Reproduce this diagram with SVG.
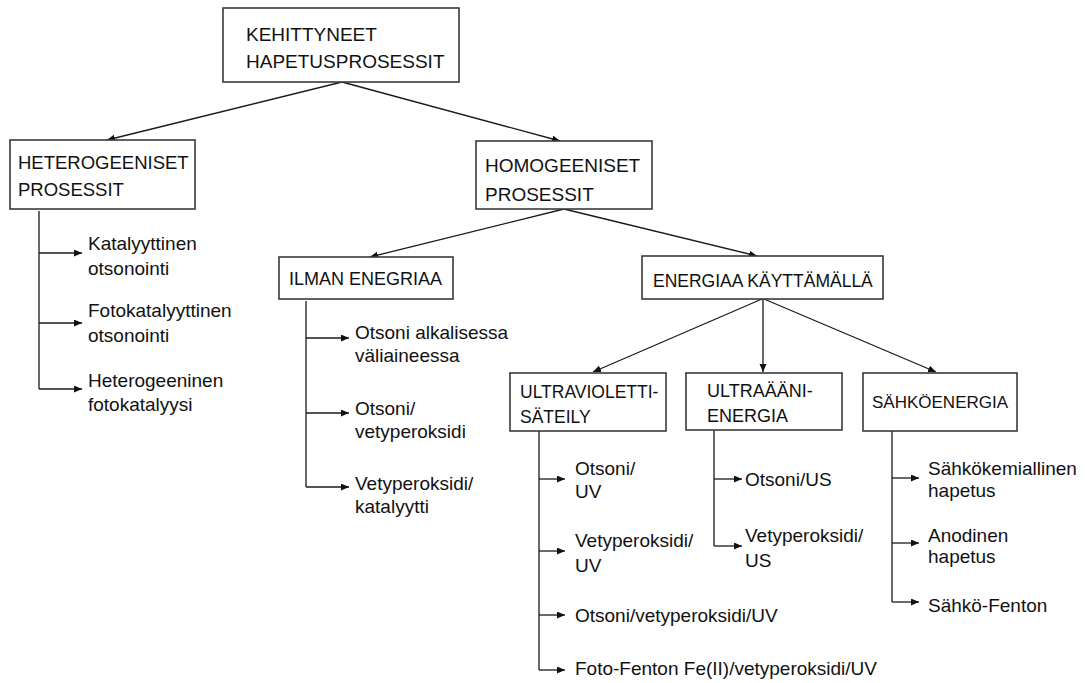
<svg xmlns="http://www.w3.org/2000/svg" width="1085" height="683" viewBox="0 0 1085 683">
<defs>
<marker id="ah" markerUnits="userSpaceOnUse" markerWidth="9" markerHeight="8" refX="8" refY="3.5" orient="auto">
<path d="M0,0 L8,3.5 L0,7 z" fill="#111"/>
</marker>
<style>
.box{fill:#fff;stroke:#3a3a3a;stroke-width:1.6}
.t{font-family:"Liberation Sans",Arial,sans-serif;font-size:18.5px;fill:#111}
.l{font-family:"Liberation Sans",Arial,sans-serif;font-size:19px;fill:#111}
.c{fill:none;stroke:#1a1a1a;stroke-width:1.3}
.a{fill:none;stroke:#1a1a1a;stroke-width:1.3;marker-end:url(#ah)}
</style>
</defs>
<rect width="1085" height="683" fill="#fff"/>
<g id="connectors">
<line class="a" x1="342" y1="82" x2="107" y2="140"/>
<line class="a" x1="342" y1="82" x2="560" y2="141"/>
<line class="a" x1="564" y1="209" x2="370" y2="257"/>
<line class="a" x1="564" y1="209" x2="757" y2="256"/>
<line class="a" x1="762" y1="299" x2="593" y2="372"/>
<line class="a" x1="763" y1="299" x2="763" y2="372"/>
<line class="a" x1="764" y1="299" x2="936" y2="372"/>
<path class="c" d="M39,211 V389"/>
<line class="a" x1="39" y1="253" x2="82" y2="253"/>
<line class="a" x1="39" y1="323" x2="82" y2="323"/>
<line class="a" x1="39" y1="389" x2="82" y2="389"/>
<path class="c" d="M306,301 V487"/>
<line class="a" x1="306" y1="338" x2="349" y2="338"/>
<line class="a" x1="306" y1="413" x2="349" y2="413"/>
<line class="a" x1="306" y1="487" x2="349" y2="487"/>
<path class="c" d="M539,431 V670"/>
<line class="a" x1="539" y1="479" x2="565" y2="479"/>
<line class="a" x1="539" y1="551" x2="565" y2="551"/>
<line class="a" x1="539" y1="615" x2="565" y2="615"/>
<line class="a" x1="539" y1="670" x2="565" y2="670"/>
<path class="c" d="M714,430 V546"/>
<line class="a" x1="714" y1="479" x2="742" y2="479"/>
<line class="a" x1="714" y1="546" x2="742" y2="546"/>
<path class="c" d="M892,431 V602"/>
<line class="a" x1="892" y1="478" x2="919" y2="478"/>
<line class="a" x1="892" y1="543" x2="919" y2="543"/>
<line class="a" x1="892" y1="602" x2="919" y2="602"/>
</g>
<g id="n-root">
<rect class="box" x="223" y="8" width="236" height="74"/>
<text class="t" x="246" y="41" style="font-size:19px">KEHITTYNEET</text>
<text class="t" x="246" y="68" style="font-size:19px">HAPETUSPROSESSIT</text>
</g>
<g id="n-hetero">
<rect class="box" x="10" y="140" width="185" height="69"/>
<text class="t" x="18" y="169">HETEROGEENISET</text>
<text class="t" x="18" y="196">PROSESSIT</text>
</g>
<g id="n-homo">
<rect class="box" x="476" y="141" width="176" height="68"/>
<text class="t" x="485" y="172" style="font-size:19px">HOMOGEENISET</text>
<text class="t" x="485" y="201" style="font-size:19px">PROSESSIT</text>
</g>
<g id="n-ilman">
<rect class="box" x="279" y="257" width="174" height="42"/>
<text class="t" x="289" y="285" style="font-size:18px">ILMAN ENEGRIAA</text>
</g>
<g id="n-energiaa">
<rect class="box" x="642" y="256" width="241" height="43"/>
<text class="t" x="653" y="287" style="font-size:17.5px">ENERGIAA KÄYTTÄMÄLLÄ</text>
</g>
<g id="n-uv">
<rect class="box" x="510" y="373" width="156" height="58"/>
<text class="t" x="520" y="398" style="font-size:17.5px">ULTRAVIOLETTI-</text>
<text class="t" x="520" y="423" style="font-size:17.5px">SÄTEILY</text>
</g>
<g id="n-ultra">
<rect class="box" x="686" y="373" width="156" height="57"/>
<text class="t" x="707" y="397" style="font-size:18px">ULTRAÄÄNI-</text>
<text class="t" x="707" y="422" style="font-size:18px">ENERGIA</text>
</g>
<g id="n-sahko">
<rect class="box" x="863" y="373" width="154" height="58"/>
<text class="t" x="872" y="408" style="font-size:17px">SÄHKÖENERGIA</text>
</g>
<g id="leaves-hetero">
<text class="l" x="88" y="250">Katalyyttinen</text>
<text class="l" x="88" y="275">otsonointi</text>
<text class="l" x="88" y="317">Fotokatalyyttinen</text>
<text class="l" x="88" y="342">otsonointi</text>
<text class="l" x="88" y="387">Heterogeeninen</text>
<text class="l" x="88" y="411">fotokatalyysi</text>
</g>
<g id="leaves-ilman">
<text class="l" x="355" y="339">Otsoni alkalisessa</text>
<text class="l" x="355" y="362">väliaineessa</text>
<text class="l" x="355" y="415">Otsoni/</text>
<text class="l" x="355" y="438">vetyperoksidi</text>
<text class="l" x="355" y="490">Vetyperoksidi/</text>
<text class="l" x="355" y="513">katalyytti</text>
</g>
<g id="leaves-uv">
<text class="l" x="575" y="475">Otsoni/</text>
<text class="l" x="575" y="498">UV</text>
<text class="l" x="575" y="547">Vetyperoksidi/</text>
<text class="l" x="575" y="572">UV</text>
<text class="l" x="575" y="622">Otsoni/vetyperoksidi/UV</text>
<text class="l" x="575" y="675">Foto-Fenton Fe(II)/vetyperoksidi/UV</text>
</g>
<g id="leaves-ultra">
<text class="l" x="745" y="486">Otsoni/US</text>
<text class="l" x="745" y="542">Vetyperoksidi/</text>
<text class="l" x="745" y="567">US</text>
</g>
<g id="leaves-sahko">
<text class="l" x="928" y="475">Sähkökemiallinen</text>
<text class="l" x="928" y="497">hapetus</text>
<text class="l" x="928" y="542">Anodinen</text>
<text class="l" x="928" y="563">hapetus</text>
<text class="l" x="928" y="612">Sähkö-Fenton</text>
</g>
</svg>
